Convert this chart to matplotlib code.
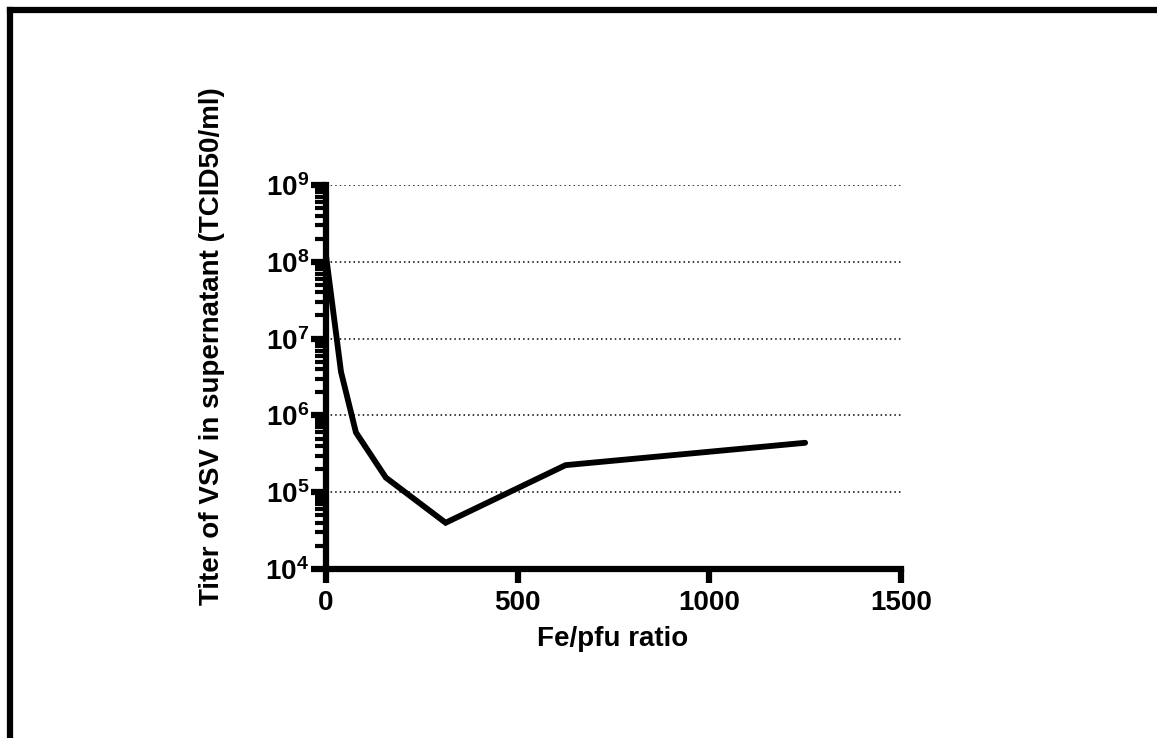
import matplotlib
matplotlib.use("Agg")
import matplotlib.pyplot as plt
from matplotlib.lines import Line2D
from matplotlib.ticker import LogLocator, LogFormatterMathtext, NullFormatter

# Fe/pfu ratio vs titer
ratio = [0, 39, 78, 156, 312, 625, 1250]
titer = [1.2e8, 3.7e6, 6.0e5, 1.55e5, 4.0e4, 2.25e5, 4.4e5]

x_ticks = [0, 500, 1000, 1500]
x_label = "Fe/pfu ratio"
y_label = "Titer of VSV in supernatant (TCID50/ml)"

plt.rcParams["font.family"] = ["Liberation Sans", "DejaVu Sans"]
plt.rcParams["font.weight"] = "bold"
plt.rcParams["mathtext.fontset"] = "custom"
plt.rcParams["mathtext.rm"] = "Liberation Sans:bold"
plt.rcParams["mathtext.bf"] = "Liberation Sans:bold"
plt.rcParams["mathtext.it"] = "Liberation Sans:bold"

fig = plt.figure(figsize=(11.57, 7.38), dpi=100)
ax = fig.add_axes([0.2818, 0.229, 0.4969, 0.5203])

ax.plot(ratio, titer, color="black", lw=4.2, solid_capstyle="round", solid_joinstyle="miter", zorder=3)

ax.set_yscale("log")
ax.set_ylim(1e4, 1e9)
ax.set_xlim(0, 1500)
ax.set_xticks(x_ticks)

ax.yaxis.set_major_locator(LogLocator(base=10, numticks=10))
ax.yaxis.set_minor_locator(LogLocator(base=10, subs=range(2, 10), numticks=10))
ax.yaxis.set_major_formatter(LogFormatterMathtext())
ax.yaxis.set_minor_formatter(NullFormatter())

for side in ["top", "right"]:
    ax.spines[side].set_visible(False)
for side in ["left", "bottom"]:
    ax.spines[side].set_linewidth(4.5)

ax.tick_params(axis="y", which="major", length=11, width=4.5, labelsize=20, pad=1)
ax.tick_params(axis="y", which="minor", length=8, width=3)
ax.tick_params(axis="x", which="major", length=10, width=4.5, labelsize=20, pad=5)

ax.yaxis.grid(True, which="major", linestyle=(0, (1, 2)), color="black", lw=1.1)
ax.set_axisbelow(True)

ax.set_xlabel(x_label, fontsize=20, fontweight="bold")
ax.set_ylabel(y_label, fontsize=20, fontweight="bold")
ax.xaxis.set_label_coords(0.499, -0.148)
ax.yaxis.set_label_coords(-0.176, 0.58)

# outer frame (top and left edges visible)
fig.add_artist(Line2D([9.5 / 1157, 9.5 / 1157], [0, 1 - 9.5 / 738], transform=fig.transFigure,
                      color="black", lw=4.5, solid_capstyle="projecting"))
fig.add_artist(Line2D([9.5 / 1157, 1], [1 - 9.5 / 738, 1 - 9.5 / 738], transform=fig.transFigure,
                      color="black", lw=4.5, solid_capstyle="projecting"))

fig.savefig("out.png", dpi=100)
